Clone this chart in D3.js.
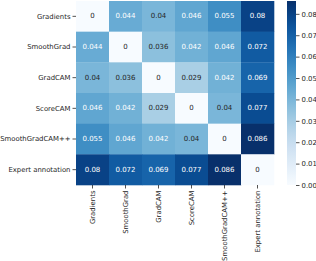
<!DOCTYPE html>
<html><head><meta charset="utf-8">
<script src="https://cdn.jsdelivr.net/npm/d3@7"></script>
<style>body{margin:0;background:#fff}svg{display:block}text{font-family:"DejaVu Sans",sans-serif}</style>
</head><body><svg id="c" width="316" height="261"></svg>
<script>
const categories = ["Gradients","SmoothGrad","GradCAM","ScoreCAM","SmoothGradCAM++","Expert annotation"];
const values = [
  [0,0.044,0.04,0.046,0.055,0.08],
  [0.044,0,0.036,0.042,0.046,0.072],
  [0.04,0.036,0,0.029,0.042,0.069],
  [0.046,0.042,0.029,0,0.04,0.077],
  [0.055,0.046,0.042,0.04,0,0.086],
  [0.08,0.072,0.069,0.077,0.086,0]
];
const cbTicks = [0,0.01,0.02,0.03,0.04,0.05,0.06,0.07,0.08];
const vmax = 0.086;

const svg = d3.select("#c");
const x = d3.scaleBand().domain(categories).range([76,274]);
const y = d3.scaleBand().domain(categories).range([1,185]);
const color = d3.scaleSequential(d3.interpolateBlues).domain([0,vmax]);

const cells = [];
values.forEach((row,i)=>row.forEach((v,j)=>cells.push({r:categories[i],c:categories[j],v})));
const g = svg.append("g");
g.selectAll("rect").data(cells).join("rect")
  .attr("x",d=>x(d.c)).attr("y",d=>y(d.r))
  .attr("width",x.bandwidth()+0.3).attr("height",y.bandwidth()+0.3)
  .attr("fill",d=>color(d.v));
g.selectAll("text").data(cells).join("text")
  .attr("x",d=>x(d.c)+x.bandwidth()/2).attr("y",d=>y(d.r)+y.bandwidth()/2)
  .attr("text-anchor","middle").attr("dominant-baseline","central")
  .attr("font-size",7).attr("fill",d=>d.v>0.041?"#fff":"#262626")
  .text(d=>String(d.v));

const yAxis = svg.append("g").attr("transform","translate(76,0)")
  .call(d3.axisLeft(y).tickSize(3.5).tickPadding(2));
const xAxis = svg.append("g").attr("transform","translate(0,185)")
  .call(d3.axisBottom(x).tickSize(3.5).tickPadding(2));
[yAxis,xAxis].forEach(a=>{a.select(".domain").remove();
  a.selectAll("text").attr("font-size",6.9).attr("fill","#262626").attr("font-family","DejaVu Sans");
  a.selectAll("line").attr("stroke","#262626").attr("stroke-width",0.8);});
xAxis.selectAll("text").attr("transform","rotate(-90)").attr("text-anchor","end")
  .attr("x",-5.5).attr("y",0).attr("dy","0.32em");

// colorbar
const cb = d3.scaleLinear().domain([0,vmax]).range([185,1]);
const defs = svg.append("defs");
const grad = defs.append("linearGradient").attr("id","cbg").attr("x1",0).attr("y1",1).attr("x2",0).attr("y2",0);
d3.range(0,1.0001,0.05).forEach(t=>grad.append("stop").attr("offset",t).attr("stop-color",d3.interpolateBlues(t)));
svg.append("rect").attr("x",287).attr("y",1).attr("width",9).attr("height",184).attr("fill","url(#cbg)");
const cbAxis = svg.append("g").attr("transform","translate(296,0)")
  .call(d3.axisRight(cb).tickValues(cbTicks).tickFormat(d3.format(".2f")).tickSize(3.5).tickPadding(2));
cbAxis.select(".domain").remove();
cbAxis.selectAll("text").attr("font-size",6.9).attr("fill","#262626").attr("font-family","DejaVu Sans");
cbAxis.selectAll("line").attr("stroke","#262626").attr("stroke-width",0.8);
</script></body></html>
